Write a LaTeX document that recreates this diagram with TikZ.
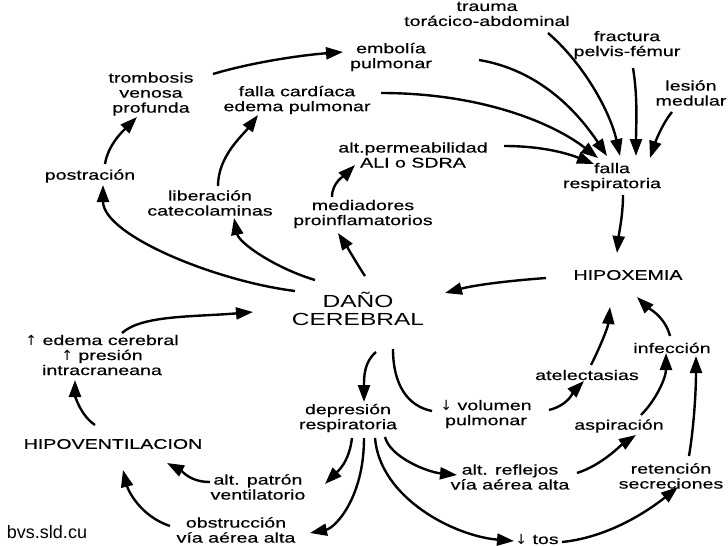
\documentclass[tikz,border=0pt]{standalone}
\usepackage{fontspec}
\setmainfont{Liberation Sans}[FakeStretch=1.4,FakeBold=0.5]
\newfontfamily\plainfont{Liberation Sans}
\newfontfamily\widefont{Liberation Sans}[FakeStretch=1.4]
\newfontfamily\arrfont{DejaVu Sans}
\newcommand{\upar}{{\arrfont ↑}}
\newcommand{\dnar}{{\arrfont ↓}}
\usetikzlibrary{arrows.meta,calc}
\begin{document}
\begin{tikzpicture}[x=1pt,y=-1pt,
  txt/.style={align=center,inner sep=0pt,font=\fontsize{14}{15}\selectfont},
  big/.style={align=center,inner sep=0pt,font=\widefont\fontsize{17.5}{18}\selectfont},
  arr/.style={line width=2.4pt,-{Triangle[length=17pt,width=12pt]}},
  ln/.style={line width=2.4pt}]
\useasboundingbox (0,0) rectangle (728,546);
\clip (0,0) rectangle (728,546);
% nodes
\node[txt] (trauma) at (487,14) {trauma\\torácico-abdominal};
\node[txt] (fract) at (627,45) {fractura\\pelvis-fémur};
\node[txt] (lesion) at (691,93) {lesión\\medular};
\node[txt] (embolia) at (391,57) {embolía\\pulmonar};
\node[txt] (tromb) at (151,94) {trombosis\\venosa\\profunda};
\node[txt] (fcard) at (297,100) {falla cardíaca\\edema pulmonar};
\node[txt] (altperm) at (413,155) {alt.permeabilidad\\ALI o SDRA};
\node[txt] (frespir) at (612,177) {falla\\respiratoria};
\node[txt] (postr) at (90,176) {postración};
\node[txt] (liber) at (210,203) {liberación\\catecolaminas};
\node[txt] (mediad) at (363,214) {mediadores\\proinflamatorios};
\node[txt] (hipox) at (628,275) {HIPOXEMIA};
\node[big] (dano) at (358,309) {DAÑO\\CEREBRAL};
\node[txt] (edema) at (102,355) {\upar{} edema cerebral\\\upar{} presión\\intracraneana};
\node[txt] (hipov) at (113,444) {HIPOVENTILACION};
\node[txt] (patron) at (258,487) {alt. patrón\\ventilatorio};
\node[txt] (obstr) at (236,530) {obstrucción\\vía aérea alta};
\node[inner sep=0pt,font=\plainfont\fontsize{18}{20}\selectfont] (bvs) at (47,532) {bvs.sld.cu};
\node[txt] (depres) at (348,418) {depresión\\respiratoria};
\node[txt] (volumen) at (486,414) {\dnar{} volumen\\pulmonar};
\node[txt] (atelec) at (587,375) {atelectasias};
\node[txt] (infec) at (672,348) {infección};
\node[txt] (aspir) at (619,426) {aspiración};
\node[txt] (reflej) at (510,477) {alt. reflejos\\vía aérea alta};
\node[txt] (reten) at (671,476) {retención\\secreciones};
\node[txt] (tos) at (537,539) {\dnar{} tos};
% connectors
\draw[arr] ($(postr)+(15,-12)$) .. controls +(3,-20) and +(-12,12) .. ($(tromb)+(-14,23)$);
\draw[arr] ($(tromb)+(62,-20)$) .. controls +(40,-12) and +(-40,3) .. ($(embolia)+(-48,-5)$);
\draw[arr] ($(embolia)+(88,3)$) .. controls +(60,10) and +(-30,-45) .. ($(frespir)+(-5,-21)$);
\draw[arr] ($(fcard)+(84,-7)$) .. controls +(100,0) and +(-45,-35) .. ($(frespir)+(-14,-19)$);
\draw[arr] ($(altperm)+(91,-9)$) .. controls +(40,0) and +(-25,-10) .. ($(frespir)+(-18,-13)$);
\draw[arr] ($(trauma)+(61,19)$) .. controls +(35,30) and +(-10,-45) .. ($(frespir)+(8,-21)$);
\draw[arr] ($(fract)+(6,23)$) .. controls +(5,30) and +(0,-30) .. ($(frespir)+(24,-21)$);
\draw[arr] ($(lesion)+(-19,19)$) .. controls +(-10,12) and +(5,-15) .. ($(frespir)+(38,-19)$);
\draw[arr] ($(frespir)+(11,18)$) .. controls +(0,20) and +(2,-20) .. ($(hipox)+(-11,-22)$);
\draw[arr] ($(hipox)+(-82,3)$) .. controls +(-40,3) and +(30,-8) .. ($(dano)+(87,-16)$);
\draw[arr] ($(dano)+(-63,-18)$) .. controls +(-80,-10) and +(0,50) .. ($(postr)+(13,9)$);
\draw[arr] ($(dano)+(-43,-29)$) .. controls +(-40,-12) and +(5,25) .. ($(liber)+(24,15)$);
\draw[arr] ($(dano)+(7,-33)$) .. controls +(-8,-12) and +(8,12) .. ($(mediad)+(-25,19)$);
\draw[arr] ($(liber)+(8,-17)$) .. controls +(0,-30) and +(-15,20) .. ($(fcard)+(-39,15)$);
\draw[arr] ($(mediad)+(-31,-17)$) .. controls +(0,-15) and +(-10,10) .. ($(altperm)+(-58,10)$);
\draw[arr] ($(edema)+(20,-22)$) .. controls +(20,-18) and +(-60,5) .. ($(dano)+(-105,3)$);
\draw[arr] ($(hipov)+(-18,-19)$) .. controls +(-15,-10) and +(0,15) .. ($(edema)+(-27,25)$);
\draw[arr] ($(patron)+(-48,-5)$) .. controls +(-20,0) and +(15,8) .. ($(hipov)+(54,19)$);
\draw[arr] ($(obstr)+(-66,-4)$) .. controls +(-30,-10) and +(5,20) .. ($(hipov)+(10,26)$);
\draw[arr] ($(dano)+(18,43)$) .. controls +(-12,10) and +(0,-25) .. ($(depres)+(16,-16)$);
\draw[ln] ($(dano)+(35,40)$) .. controls +(0,35) and +(-25,-5) .. ($(volumen)+(-54,-3)$);
\draw[arr] ($(volumen)+(63,-4)$) .. controls +(20,-5) and +(-10,10) .. ($(atelec)+(-3,6)$);
\draw[arr] ($(atelec)+(4,-10)$) .. controls +(10,-20) and +(-2,20) .. ($(hipox)+(-18,32)$);
\draw[arr] ($(infec)+(-2,-12)$) .. controls +(-5,-20) and +(10,10) .. ($(hipox)+(9,22)$);
\draw[arr] ($(aspir)+(22,-11)$) .. controls +(15,-15) and +(0,25) .. ($(infec)+(-6,5)$);
\draw[arr] ($(reten)+(18,-20)$) .. controls +(5,-30) and +(0,35) .. ($(infec)+(24,8)$);
\draw[arr] ($(reflej)+(67,-4)$) .. controls +(25,-8) and +(-15,10) .. ($(aspir)+(17,9)$);
\draw[arr] ($(tos)+(25,3)$) .. controls +(50,-5) and +(-25,20) .. ($(reten)+(7,11)$);
\draw[arr] ($(depres)+(4,20)$) .. controls +(-3,25) and +(12,-12) .. ($(patron)+(67,-3)$);
\draw[arr] ($(depres)+(16,20)$) .. controls +(0,60) and +(25,-5) .. ($(obstr)+(74,3)$);
\draw[arr] ($(depres)+(37,19)$) .. controls +(5,20) and +(-30,-3) .. ($(reflej)+(-53,-2)$);
\draw[arr] ($(depres)+(27,20)$) .. controls +(5,60) and +(-60,-5) .. ($(tos)+(-23,2)$);
\end{tikzpicture}
\end{document}
